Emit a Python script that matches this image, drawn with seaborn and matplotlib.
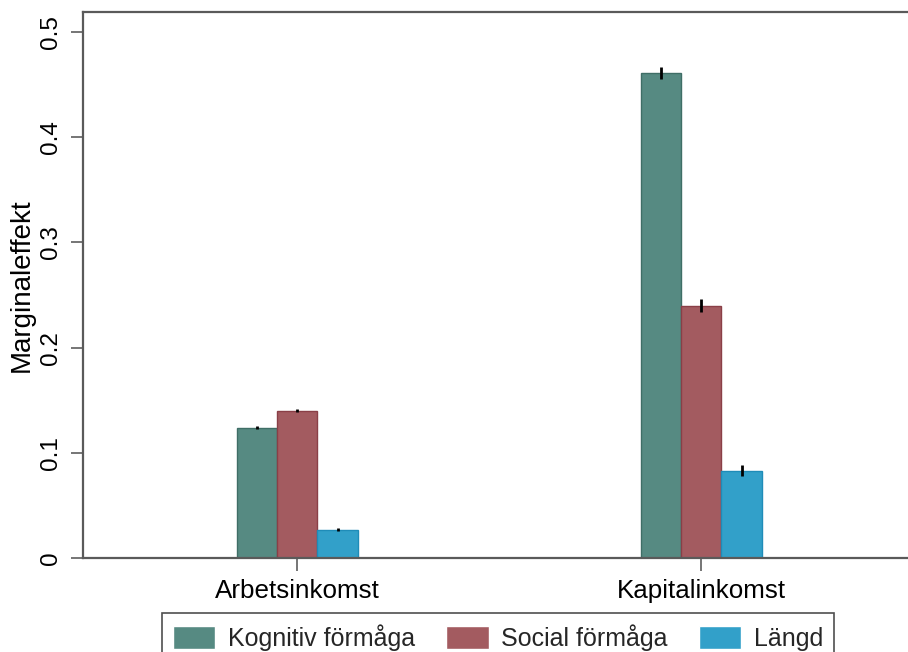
import matplotlib
matplotlib.use("Agg")
import matplotlib.pyplot as plt
from matplotlib.ticker import FuncFormatter
import pandas as pd
import seaborn as sns

# Marginal effects by income type and trait
categories = ["Arbetsinkomst", "Kapitalinkomst"]
series = ["Kognitiv förmåga", "Social förmåga", "Längd"]
kognitiv = [0.124, 0.461]
social = [0.140, 0.240]
langd = [0.027, 0.083]
err_kognitiv = [0.0012, 0.006]
err_social = [0.0012, 0.006]
err_langd = [0.0012, 0.0055]
yticks = [0, 0.1, 0.2, 0.3, 0.4, 0.5]

fills = ["#568a82", "#a35b60", "#32a0c9"]
edges = ["#3f6e66", "#8a3f47", "#1f8cb8"]

values = [kognitiv, social, langd]
errors = [err_kognitiv, err_social, err_langd]
df = pd.DataFrame({
    "inkomst": [c for _ in series for c in categories],
    "egenskap": [s for s in series for _ in categories],
    "effekt": [v for vals in values for v in vals],
})

sns.set_theme(style="white")
plt.rcParams["font.family"] = ["Liberation Sans", "DejaVu Sans"]

fig = plt.figure(figsize=(9.08, 6.52), dpi=100)
W, H = 908, 652
ax = fig.add_axes([83 / W, 1 - 558 / H, (908 - 83) / W, (558 - 12) / H])

sns.barplot(data=df, x="inkomst", y="effekt", hue="egenskap",
            order=categories, hue_order=series, palette=fills,
            width=0.3, errorbar=None, linewidth=1, ax=ax, saturation=1)

for cont, ec, errs in zip(ax.containers, edges, errors):
    xs, hs = [], []
    for bar in cont:
        bar.set_edgecolor(ec)
        xs.append(bar.get_x() + bar.get_width() / 2)
        hs.append(bar.get_height())
    ax.errorbar(xs, hs, yerr=errs, fmt="none", ecolor="black",
                elinewidth=2, capsize=0, zorder=5)

ax.set_xlim(-0.53, -0.53 + (908 - 83) / 404)
ax.set_ylim(0, 0.519)
ax.set_yticks(yticks)
ax.yaxis.set_major_formatter(FuncFormatter(lambda v, p: f"{v:g}"))

spine_col = "#5a5a5a"
for side in ["left", "bottom", "top"]:
    ax.spines[side].set_color(spine_col)
    ax.spines[side].set_linewidth(1.6)
ax.spines["right"].set_visible(False)

ax.tick_params(axis="both", which="major", direction="out", length=9,
               width=1.3, color="#6a6a6a", labelcolor="black",
               bottom=True, left=True)
ax.tick_params(axis="y", pad=6, labelsize=17.5)
ax.tick_params(axis="x", pad=6, labelsize=18.7)
for lab in ax.get_yticklabels():
    lab.set_rotation(90)
    lab.set_va("center")
    lab.set_ha("right")

ax.set_xlabel("")
ax.set_ylabel("Marginaleffekt", fontsize=20, color="black", labelpad=4)

handles, labels = ax.get_legend_handles_labels()
ax.get_legend().remove()
leg = fig.legend(handles, labels, loc="upper center",
                 bbox_to_anchor=(498 / W, 1 - 613 / H), ncol=3,
                 fontsize=18, frameon=True, fancybox=False,
                 handlelength=1.7, handleheight=1.05, handletextpad=0.5,
                 columnspacing=1.25, borderpad=0.45, borderaxespad=0)
leg.get_frame().set_edgecolor("#222222")
leg.get_frame().set_linewidth(1.2)

fig.savefig("out.png", dpi=100, facecolor="white")
